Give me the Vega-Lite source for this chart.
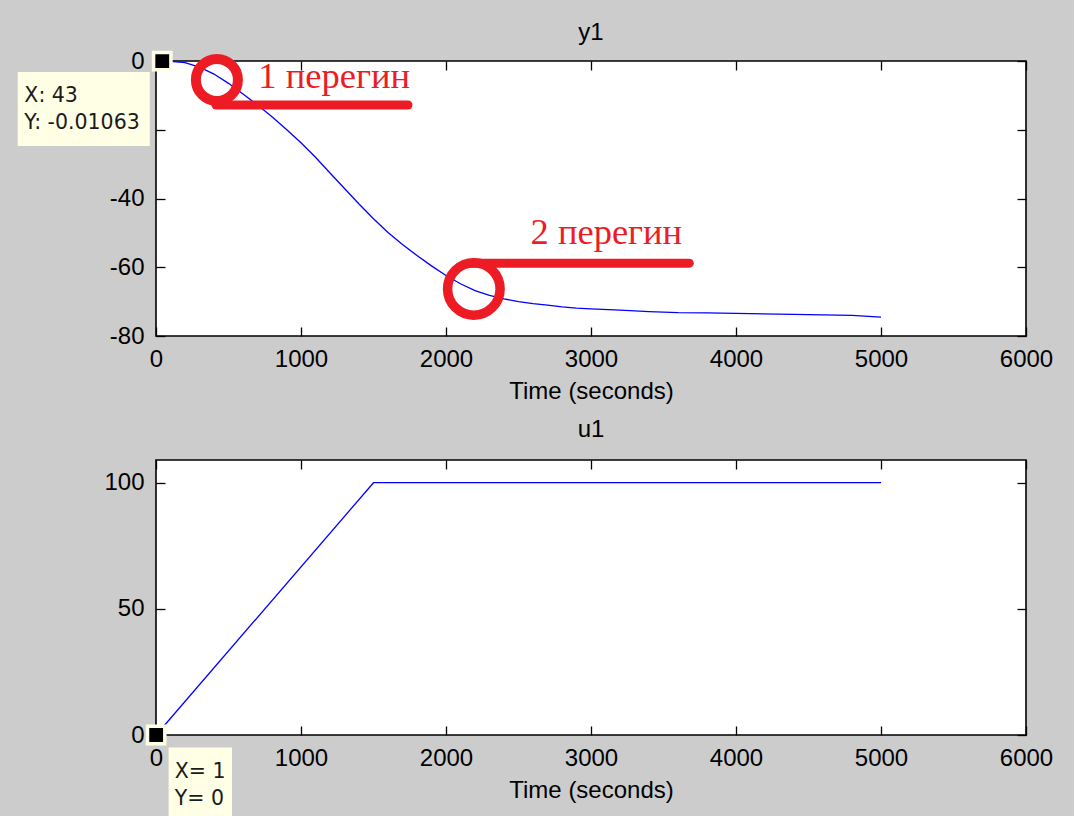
{
  "$schema": "https://vega.github.io/schema/vega-lite/v6.json",
  "background": "#cccccc",
  "padding": {"left": 16, "top": 20, "right": 20, "bottom": 0},
  "bounds": "flush",
  "spacing": 124,
  "config": {
    "view": {"stroke": "black", "strokeWidth": 1.6, "fill": "white"},
    "axis": {"grid": false, "domain": false, "tickSize": -9, "tickColor": "black", "tickWidth": 1.3,
      "labelFont": "Liberation Sans", "labelFontSize": 24, "labelColor": "black",
      "titleFont": "Liberation Sans", "titleFontSize": 24, "titleFontWeight": "normal", "titleColor": "black",
      "labelFlush": false, "labelOverlap": false, "titlePadding": 8, "labelExpr": "'' + datum.value"},
    "axisX": {"labelPadding": 20},
    "axisY": {"labelPadding": 21},
    "title": {"font": "Liberation Sans", "fontSize": 24, "fontWeight": "normal", "color": "black", "frame": "group", "anchor": "middle", "baseline": "alphabetic"}
  },
  "datasets": {
    "y1": [
      {"t": 0, "y": 0}, {"t": 43, "y": -0.01063}, {"t": 100, "y": -0.1}, {"t": 200, "y": -0.5}, {"t": 300, "y": -1.8},
      {"t": 400, "y": -3.8}, {"t": 500, "y": -6.5}, {"t": 600, "y": -9.6}, {"t": 700, "y": -12.8}, {"t": 800, "y": -16.2},
      {"t": 900, "y": -19.9}, {"t": 1000, "y": -23.8}, {"t": 1100, "y": -28.0}, {"t": 1200, "y": -32.6}, {"t": 1300, "y": -37.1},
      {"t": 1400, "y": -41.6}, {"t": 1500, "y": -45.9}, {"t": 1600, "y": -49.9}, {"t": 1700, "y": -53.4}, {"t": 1800, "y": -56.6},
      {"t": 1900, "y": -59.6}, {"t": 2000, "y": -62.4}, {"t": 2100, "y": -64.8}, {"t": 2200, "y": -66.8}, {"t": 2300, "y": -68.2},
      {"t": 2400, "y": -69.2}, {"t": 2500, "y": -70.0}, {"t": 2600, "y": -70.6}, {"t": 2700, "y": -71.0}, {"t": 2800, "y": -71.5},
      {"t": 2900, "y": -71.9}, {"t": 3000, "y": -72.1}, {"t": 3200, "y": -72.5}, {"t": 3400, "y": -72.9}, {"t": 3600, "y": -73.2},
      {"t": 3800, "y": -73.3}, {"t": 4000, "y": -73.4}, {"t": 4400, "y": -73.7}, {"t": 4800, "y": -74.0}, {"t": 5000, "y": -74.5}
    ],
    "u1": [
      {"t": 1, "u": 0}, {"t": 1500, "u": 100}, {"t": 5000, "u": 100}
    ]
  },
  "vconcat": [
    {
      "width": 870, "height": 275,
      "title": {"text": "y1", "offset": -6},
      "layer": [
        {
          "data": {"name": "y1"},
          "mark": {"type": "line", "color": "#0000ff", "strokeWidth": 1.3},
          "encoding": {
            "x": {"field": "t", "type": "quantitative", "scale": {"domain": [0, 6000], "nice": false},
              "axis": {"orient": "bottom", "title": "Time (seconds)", "values": [0, 1000, 2000, 3000, 4000, 5000, 6000]}},
            "y": {"field": "y", "type": "quantitative", "scale": {"domain": [-80, 0], "nice": false, "zero": false},
              "axis": {"orient": "left", "title": null, "values": [-80, -60, -40, -20, 0]}}
          }
        },
        {
          "data": {"name": "y1"},
          "mark": {"type": "line", "opacity": 0},
          "encoding": {
            "x": {"field": "t", "type": "quantitative",
              "axis": {"orient": "top", "title": null, "labels": false, "values": [0, 1000, 2000, 3000, 4000, 5000, 6000]}},
            "y": {"field": "y", "type": "quantitative",
              "axis": {"orient": "right", "title": null, "labels": false, "values": [-80, -60, -40, -20, 0]}}
          }
        },
        {
          "data": {"values": [{"t": 420, "y": -5.5, "s": 1764, "w": 10}, {"t": 2192, "y": -66.3, "s": 2756, "w": 9.5}]},
          "mark": {"type": "point", "shape": "circle", "filled": false, "color": "#ed1c24", "opacity": 1},
          "encoding": {
            "x": {"field": "t", "type": "quantitative", "axis": null},
            "y": {"field": "y", "type": "quantitative", "axis": null},
            "size": {"field": "s", "type": "quantitative", "scale": null},
            "strokeWidth": {"field": "w", "type": "quantitative", "scale": null}
          }
        },
        {
          "data": {"values": [{"t1": 414, "t2": 1738, "y": -12.8}, {"t1": 2175, "t2": 3678, "y": -58.8}]},
          "mark": {"type": "rule", "color": "#ed1c24", "strokeWidth": 9, "strokeCap": "round"},
          "encoding": {
            "x": {"field": "t1", "type": "quantitative", "axis": null},
            "x2": {"field": "t2"},
            "y": {"field": "y", "type": "quantitative", "axis": null}
          }
        },
        {
          "data": {"values": [{"t": 706, "y": -7.85, "label": "1 перегин"}, {"t": 2583, "y": -53.2, "label": "2 перегин"}]},
          "mark": {"type": "text", "font": "Liberation Serif", "fontSize": 36.5, "color": "#ed1c24", "align": "left", "baseline": "alphabetic"},
          "encoding": {
            "x": {"field": "t", "type": "quantitative", "axis": null},
            "y": {"field": "y", "type": "quantitative", "axis": null},
            "text": {"field": "label"}
          }
        },
        {
          "data": {"values": [{"t1": -954, "t2": -43, "y1": -3.2, "y2": -24.7}]},
          "mark": {"type": "rect", "color": "#ffffe6"},
          "encoding": {
            "x": {"field": "t1", "type": "quantitative", "axis": null},
            "x2": {"field": "t2"},
            "y": {"field": "y1", "type": "quantitative", "axis": null},
            "y2": {"field": "y2"}
          }
        },
        {
          "data": {"values": [{"t": -908, "y": -11.9, "label": "X: 43"}, {"t": -908, "y": -19.8, "label": "Y: -0.01063"}]},
          "mark": {"type": "text", "font": "DejaVu Sans", "fontSize": 20.5, "color": "#1a1a1a", "align": "left", "baseline": "alphabetic"},
          "encoding": {
            "x": {"field": "t", "type": "quantitative", "axis": null},
            "y": {"field": "y", "type": "quantitative", "axis": null},
            "text": {"field": "label"}
          }
        },
        {
          "data": {"values": [{"t": 43, "y": -0.01063}]},
          "mark": {"type": "point", "shape": "square", "filled": true, "fill": "black", "stroke": "#ffffe6", "strokeWidth": 3.5, "size": 300, "opacity": 1},
          "encoding": {
            "x": {"field": "t", "type": "quantitative", "axis": null},
            "y": {"field": "y", "type": "quantitative", "axis": null}
          }
        }
      ],
      "resolve": {"axis": {"x": "independent", "y": "independent"}}
    },
    {
      "width": 870, "height": 275,
      "title": {"text": "u1", "offset": 17},
      "layer": [
        {
          "data": {"name": "u1"},
          "mark": {"type": "line", "color": "#0000ff", "strokeWidth": 1.3},
          "encoding": {
            "x": {"field": "t", "type": "quantitative", "scale": {"domain": [0, 6000], "nice": false},
              "axis": {"orient": "bottom", "title": "Time (seconds)", "values": [0, 1000, 2000, 3000, 4000, 5000, 6000]}},
            "y": {"field": "u", "type": "quantitative", "scale": {"domain": [0, 109], "nice": false},
              "axis": {"orient": "left", "title": null, "values": [0, 50, 100]}}
          }
        },
        {
          "data": {"name": "u1"},
          "mark": {"type": "line", "opacity": 0},
          "encoding": {
            "x": {"field": "t", "type": "quantitative",
              "axis": {"orient": "top", "title": null, "labels": false, "values": [0, 1000, 2000, 3000, 4000, 5000, 6000]}},
            "y": {"field": "u", "type": "quantitative",
              "axis": {"orient": "right", "title": null, "labels": false, "values": [0, 50, 100]}}
          }
        },
        {
          "data": {"values": [{"t1": 87, "t2": 524, "y1": -5.0, "y2": -32.5}]},
          "mark": {"type": "rect", "color": "#ffffe6"},
          "encoding": {
            "x": {"field": "t1", "type": "quantitative", "axis": null},
            "x2": {"field": "t2"},
            "y": {"field": "y1", "type": "quantitative", "axis": null},
            "y2": {"field": "y2"}
          }
        },
        {
          "data": {"values": [{"t": 129, "y": -16.9, "label": "X= 1"}, {"t": 129, "y": -27.6, "label": "Y= 0"}]},
          "mark": {"type": "text", "font": "DejaVu Sans", "fontSize": 20.5, "color": "#1a1a1a", "align": "left", "baseline": "alphabetic"},
          "encoding": {
            "x": {"field": "t", "type": "quantitative", "axis": null},
            "y": {"field": "y", "type": "quantitative", "axis": null},
            "text": {"field": "label"}
          }
        },
        {
          "data": {"values": [{"t": 1, "y": 0}]},
          "mark": {"type": "point", "shape": "square", "filled": true, "fill": "black", "stroke": "#ffffe6", "strokeWidth": 3.5, "size": 300, "opacity": 1},
          "encoding": {
            "x": {"field": "t", "type": "quantitative", "axis": null},
            "y": {"field": "y", "type": "quantitative", "axis": null}
          }
        }
      ],
      "resolve": {"axis": {"x": "independent", "y": "independent"}}
    }
  ]
}
